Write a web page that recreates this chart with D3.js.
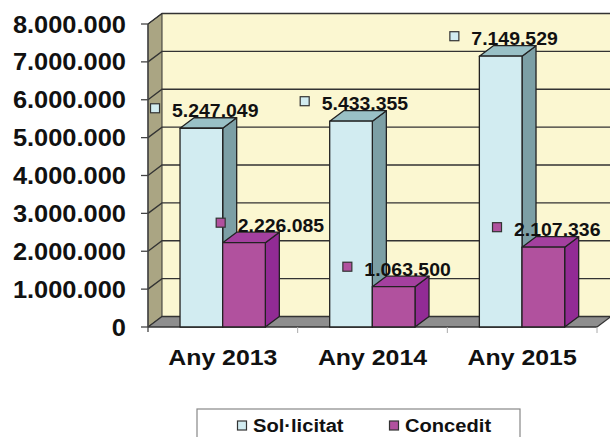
<!DOCTYPE html>
<html lang="ca">
<head>
  <meta charset="UTF-8">
  <title>Sol·licitat vs Concedit</title>
  <script src="https://d3js.org/d3.v7.min.js"></script>
  <style>
    body { margin: 0; background: #fff; }
    text { font-family: "Liberation Sans", Arial, sans-serif; font-weight: bold; fill: #111; }
  </style>
</head>
<body>
  <script>
    // data
    const categories = ["Any 2013", "Any 2014", "Any 2015"];
    const seriesNames = ["Sol·licitat", "Concedit"];
    const solValues = [5247049, 5433355, 7149529];
    const conValues = [2226085, 1063500, 2107336];
    const yTicks = [0, 1000000, 2000000, 3000000, 4000000, 5000000, 6000000, 7000000, 8000000];

    const width = 610, height = 437;
    const plotL = 148, plotR = 597, plotB = 327, plotT = 24;
    const dx = 14, dy = -10.5;   // 3D depth

    const colors = {
      "Sol·licitat": { front: "#d2ecf1", side: "#7c9fa5", top: "#99c0c6" },
      "Concedit":    { front: "#b1519e", side: "#922b95", top: "#a4409f" }
    };

    // format 5.247.049
    const fmt = v => d3.format(",")(v).replace(/,/g, ".");

    const svg = d3.select("body").append("svg")
      .attr("width", width)
      .attr("height", height);

    const x = d3.scaleBand().domain(categories).range([plotL, plotR]);
    const xs = d3.scaleBand().domain(seriesNames)
      .range([x.bandwidth() * 0.214, x.bandwidth() * 0.784]);
    const y = d3.scaleLinear().domain([0, 8000000]).range([plotB, plotT]);

    const pts = p => p.map(d => d.join(",")).join(" ");
    const yMax = y(8000000);

    // walls
    svg.append("polygon") // back wall
      .attr("points", pts([[plotL + dx, yMax + dy], [width + 2, yMax + dy], [width + 2, plotB + dy], [plotL + dx, plotB + dy]]))
      .attr("fill", "#fbf7d1");
    svg.append("polygon") // left wall
      .attr("points", pts([[plotL, yMax], [plotL + dx, yMax + dy], [plotL + dx, plotB + dy], [plotL, plotB]]))
      .attr("fill", "#aaa583").attr("stroke", "#333").attr("stroke-width", 1);
    svg.append("polygon") // floor
      .attr("points", pts([[plotL, plotB], [plotL + dx, plotB + dy], [width + 2, plotB + dy], [plotR + dx, plotB + dy], [plotR, plotB]]))
      .attr("fill", "#8e8e8e");

    // gridlines
    svg.selectAll(".grid").data(yTicks).enter().append("polyline")
      .attr("points", d => pts([[plotL, y(d)], [plotL + dx, y(d) + dy], [width + 2, y(d) + dy]]))
      .attr("fill", "none").attr("stroke", "#333").attr("stroke-width", 1.3);

    // floor front edge
    svg.append("line").attr("x1", plotL).attr("x2", plotR).attr("y1", plotB).attr("y2", plotB)
      .attr("stroke", "#333").attr("stroke-width", 1.3);
    svg.append("line").attr("x1", plotR).attr("x2", plotR + dx).attr("y1", plotB).attr("y2", plotB + dy)
      .attr("stroke", "#333").attr("stroke-width", 1.3);

    // axis ticks
    svg.selectAll(".ytick").data(yTicks).enter().append("line")
      .attr("x1", plotL - 7).attr("x2", plotL).attr("y1", d => y(d)).attr("y2", d => y(d))
      .attr("stroke", "#444").attr("stroke-width", 1.3);
    svg.append("line").attr("x1", plotL).attr("x2", plotL).attr("y1", plotT).attr("y2", plotB + 5)
      .attr("stroke", "#444").attr("stroke-width", 1.3);
    svg.selectAll(".xtick").data(categories.slice(1).concat(["end"])).enter().append("line")
      .attr("x1", d => d === "end" ? plotR : x(d)).attr("x2", d => d === "end" ? plotR : x(d))
      .attr("y1", plotB).attr("y2", plotB + 6)
      .attr("stroke", "#aaa").attr("stroke-width", 1);

    // stretched text helper
    function label(g, px, py, str, size, anchor, sx) {
      return g.append("text")
        .attr("transform", `translate(${px},${py}) scale(${sx},1)`)
        .attr("text-anchor", anchor)
        .style("font-size", size + "px")
        .text(str);
    }

    // y labels
    yTicks.forEach(t => label(svg, 126, y(t) + 8.5, fmt(t), 24, "end", 1.06));

    // x labels
    categories.forEach(c => label(svg, x(c) + x.bandwidth() / 2, 365, c, 22, "middle", 1.13));

    // bars
    const rows = [];
    categories.forEach((c, i) => {
      rows.push({ cat: c, s: "Sol·licitat", v: solValues[i] });
      rows.push({ cat: c, s: "Concedit", v: conValues[i] });
    });

    const bw = xs.bandwidth();
    rows.forEach(d => {
      const x0 = x(d.cat) + xs(d.s), y0 = y(d.v), c = colors[d.s];
      const g = svg.append("g").attr("stroke", "#222").attr("stroke-width", 1.3).attr("stroke-linejoin", "round");
      g.append("polygon").attr("fill", c.side)
        .attr("points", pts([[x0 + bw, y0], [x0 + bw + dx, y0 + dy], [x0 + bw + dx, plotB + dy], [x0 + bw, plotB]]));
      g.append("polygon").attr("fill", c.top)
        .attr("points", pts([[x0, y0], [x0 + dx, y0 + dy], [x0 + bw + dx, y0 + dy], [x0 + bw, y0]]));
      g.append("rect").attr("fill", c.front)
        .attr("x", x0).attr("y", y0).attr("width", bw).attr("height", plotB - y0);
    });

    // data labels with legend keys
    const nudge = { "Concedit|Any 2013": 23 };
    rows.forEach(d => {
      const x0 = x(d.cat) + xs(d.s);
      const mx = x0 - 25 + (nudge[d.s + "|" + d.cat] || 0);
      const my = y(d.v) - 20;
      svg.append("rect")
        .attr("x", mx - 4.5).attr("y", my - 4.5).attr("width", 9).attr("height", 9)
        .attr("fill", colors[d.s].front).attr("stroke", "#333").attr("stroke-width", 1.2);
      label(svg, mx + 17, my + 9, fmt(d.v), 18, "start", 1.08);
    });

    // legend
    svg.append("rect")
      .attr("x", 197).attr("y", 409).attr("width", 323).attr("height", 40)
      .attr("fill", "#fff").attr("stroke", "#888").attr("stroke-width", 1.2);
    const legX = [242, 394];
    seriesNames.forEach((s, i) => {
      svg.append("rect")
        .attr("x", legX[i] - 4.5).attr("y", 421).attr("width", 9).attr("height", 9)
        .attr("fill", colors[s].front).attr("stroke", "#333").attr("stroke-width", 1.2);
      label(svg, legX[i] + 11, 432, s, 19, "start", 1.06);
    });
  </script>
</body>
</html>
